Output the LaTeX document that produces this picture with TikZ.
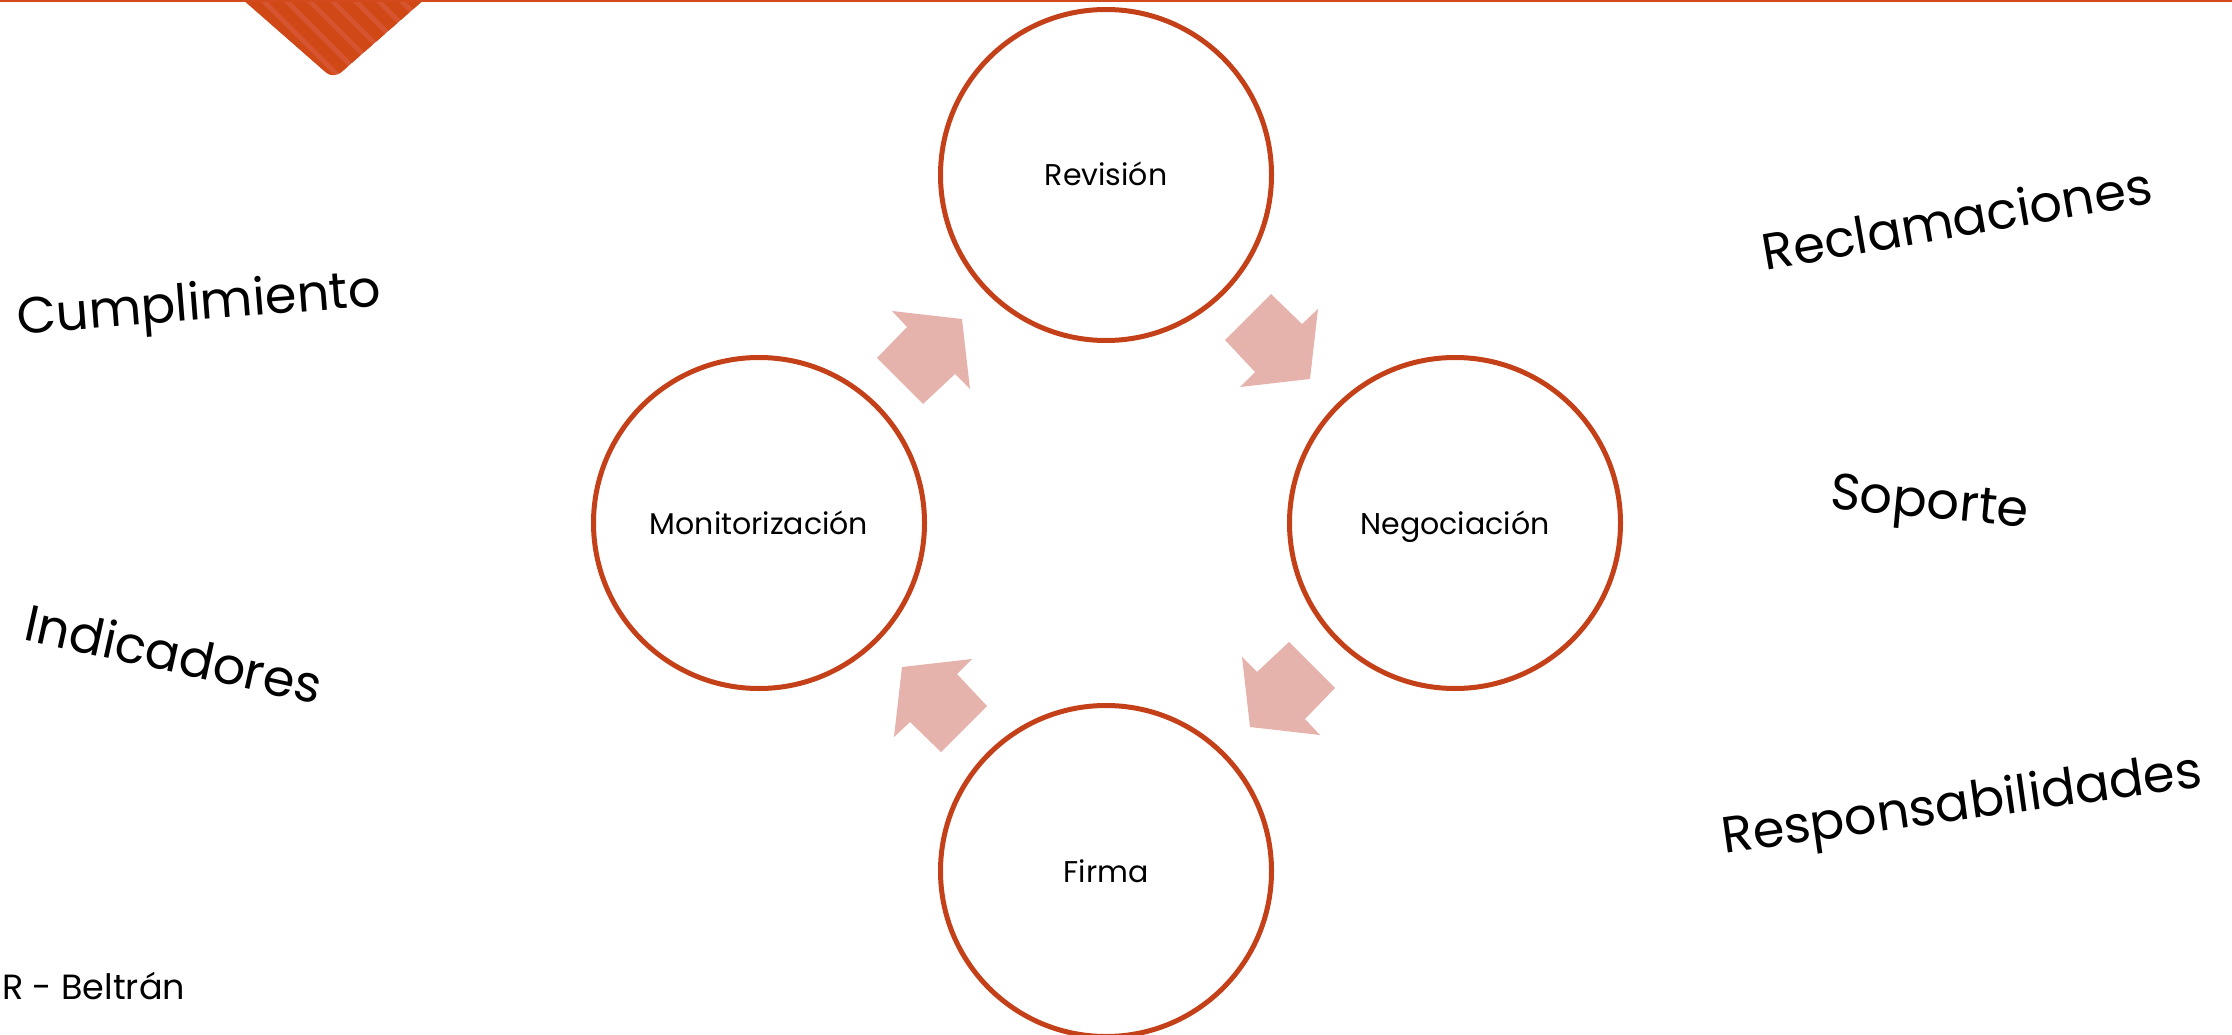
\documentclass[tikz,border=0pt]{standalone}
\usepackage{fontspec}
\setmainfont{Poppins}
\definecolor{circ}{RGB}{196,64,24}
\definecolor{arr}{RGB}{229,178,172}
\definecolor{topc}{RGB}{211,75,28}
\definecolor{stripeA}{RGB}{214,84,48}
\definecolor{stripeB}{RGB}{207,72,22}
\begin{document}
\begin{tikzpicture}[x=1pt,y=-1pt,
  stage/.style={circle, draw=circ, line width=5pt, minimum size=331pt, inner sep=0pt,
    text height=22pt, text depth=0pt, font=\fontsize{30}{36}\selectfont},
  side/.style={anchor=base, inner sep=0pt, font=\fontsize{51}{60}\selectfont},
  blockarrow/.style={fill=arr, draw=none}]
\useasboundingbox (0,0) rectangle (2232,1035);
% top decoration
\fill[topc] (0,-5) rectangle (2232,2.5);
\begin{scope}
  \clip[rounded corners=10pt] (220.6,-20) -- (333.5,79) -- (446.4,-20) -- cycle;
  \fill[stripeA] (180,-25) rectangle (480,90);
  \foreach \s in {60,83,...,480}
    \draw[stripeB, line width=11pt] (\s,-30) -- (\s+130,100);
\end{scope}
\fill[topc] (0,-5) rectangle (2232,2.5);
% stages
\node[stage] (rev) at (1106,175) {Revisión};
\node[stage] (neg) at (1455,523) {Negociación};
\node[stage] (fir) at (1106,871) {Firma};
\node[stage] (mon) at (759,523) {Monitorización};
% block arrows
\coordinate (c) at (1106,523);
\begin{scope}[shift={(c)}]
  \fill[blockarrow] (-214,-212) -- (-144,-204) -- (-136,-134) -- (-151,-149) -- (-183,-119) -- (-229,-165) -- (-199,-196) -- cycle;
  \fill[blockarrow] (212,-214) -- (204,-144) -- (134,-136) -- (149,-151) -- (119,-183) -- (165,-229) -- (196,-199) -- cycle;
  \fill[blockarrow] (214,212) -- (144,204) -- (136,134) -- (151,149) -- (183,119) -- (229,165) -- (199,196) -- cycle;
  \fill[blockarrow] (-212,214) -- (-204,144) -- (-134,136) -- (-149,151) -- (-119,183) -- (-165,229) -- (-196,199) -- cycle;
\end{scope}
% side words
\node[side, rotate=4.5] (cump) at (200,320) {Cumplimiento};
\node[side, rotate=-12.5] (ind) at (170,672) {Indicadores};
\node[side, rotate=9.8] (recl) at (1960,237) {Reclamaciones};
\node[side, rotate=-5.5] (sop) at (1928,518) {Soporte};
\node[side, rotate=8] (resp) at (1964,820) {Responsabilidades};
% footer
\node[anchor=base west, inner sep=0pt, font=\fontsize{35}{42}\selectfont] (foot) at (2,999) {R - Beltrán};
\end{tikzpicture}
\end{document}
